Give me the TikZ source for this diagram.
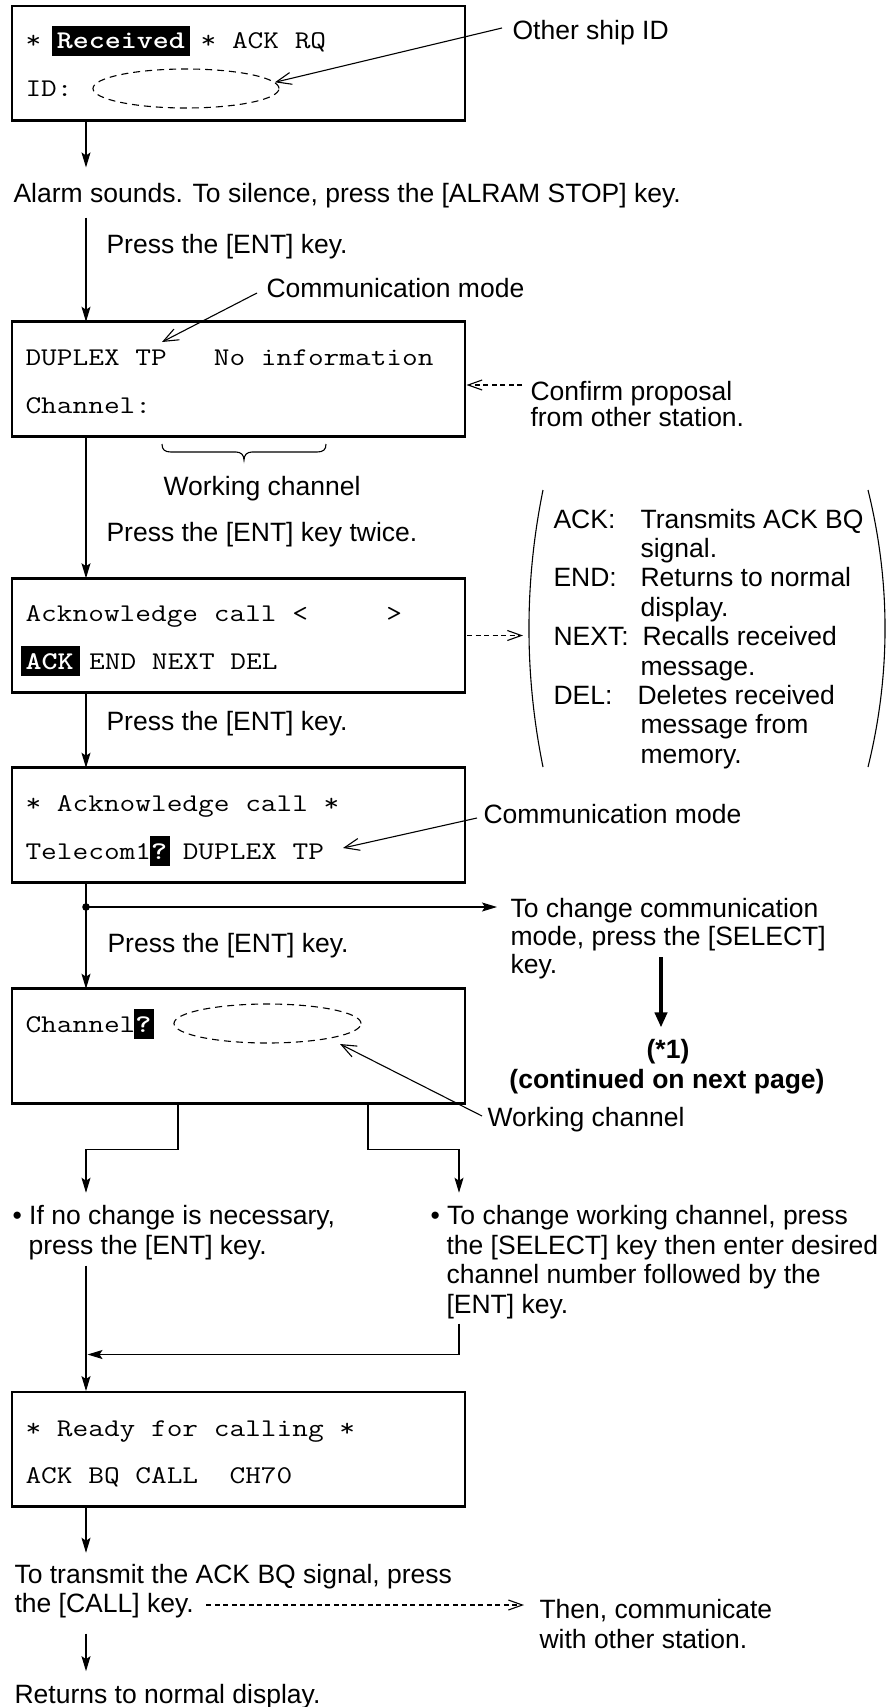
\documentclass[tikz,border=0pt]{standalone}
\usepackage{fontspec}
\usepackage{graphicx}
\setmainfont{Liberation Sans}
\usetikzlibrary{arrows.meta,shapes.geometric,calc}
\newcommand{\sansf}{\fontsize{26.5}{30}\selectfont\rmfamily}
\newcommand{\monof}{\fontsize{25.5}{30}\selectfont\ttfamily}
\newcommand{\mt}[1]{\scalebox{1.195}[1]{#1}}
\newcommand{\hlt}[3]{{\setlength{\fboxsep}{0pt}\hspace*{-#1}\colorbox{black}{\rule[-7pt]{0pt}{30pt}\hspace*{#1}\textcolor{white}{\bfseries #3}\hspace*{#2}}\hspace*{-#2}}}
\tikzset{
  scrbox/.style={draw, line width=2.6pt, minimum width=453pt, minimum height=114.5pt, inner sep=0pt, outer sep=0pt},
  mono/.style={font=\monof, inner sep=0pt, anchor=base west},
  txt/.style={font=\sansf, inner sep=0pt, anchor=base west, text height=19.5pt, text depth=5.5pt},
  arr/.style={-{Stealth[length=15pt,width=9pt,inset=3pt]}},
  openarr/.style={-{Straight Barb[length=15pt,width=12pt]}},
  dasharr/.style={dash pattern=on 5pt off 3.5pt, -{Straight Barb[length=14pt,width=10pt]}},
  dell/.style={draw, ellipse, dash pattern=on 7pt off 5pt, inner sep=0pt, minimum width=186pt, minimum height=39pt},
  paren/.style={line width=1.1pt}
}
\begin{document}
\begin{tikzpicture}[x=1pt,y=-1pt,line width=1.1pt]
\useasboundingbox (0,0) rectangle (894,1707);
\coordinate (cx) at (86,0);

% ---------- box 1
\node[scrbox] (b1) at (238.5,63.3) {};
\node[mono] (b1l1) at (25,49) {\mt{* \hlt{4.2pt}{4.2pt}{Received} * ACK RQ}};
\node[mono] (b1l2) at (25,97) {\mt{ID:}};
\node[dell] (e1) at (186,88.5) {};
\node[txt] (oship) at (512,40) {Other ship ID};
\draw[openarr] ([shift={(-10pt,5pt)}]oship.west) -- (e1.4);

\node[txt] (alarm) at (13,203) {Alarm sounds. To silence, press the [ALRAM STOP] key.};
\node[txt] (ent1) at (106,253) {Press the [ENT] key.};
\node[txt] (cm1) at (266,297) {Communication mode};

% ---------- box 2
\node[scrbox] (b2) at (238.5,379) {};
\node[mono] (b2l1) at (25,365) {\mt{DUPLEX TP\ \ \ No information}};
\node[mono] (b2l2) at (25,413) {\mt{Channel:}};
\coordinate (cm1tip) at (162,342);
\draw[openarr] ([shift={(-9pt,-3pt)}]cm1.west) -- (cm1tip);

\draw[arr, shorten >=15.5pt] (b1.south -| cx) -- (alarm.north -| cx);
\draw[arr, shorten <=8.5pt] (alarm.south -| cx) -- (b2.north -| cx);

\node[txt] (conf1) at (530,400) {Confirm proposal};
\node[txt] (conf2) at (530,426) {from other station.};
\draw[dasharr, shorten >=1.5pt] ([shift={(-8pt,8pt)}]conf1.west) coordinate (cs) -- (cs -| b2.east);

% brace
\draw (162,444) .. controls (162,450) and (165,452) .. (171,452) -- (236,452)
  .. controls (241,452) and (244,455) .. (244,460)
  .. controls (244,455) and (247,452) .. (252,452) -- (317,452)
  .. controls (323,452) and (326,450) .. (326,444);
\node[txt] (wc1) at (163,495) {Working channel};
\node[txt] (ent2) at (106,541) {Press the [ENT] key twice.};

% ---------- box 3
\node[scrbox] (b3) at (238.5,635.5) {};
\node[mono] (b3l1) at (25,621) {\mt{Acknowledge call <\ \ \ \ \ >}};
\node[mono] (b3l2) at (25,669) {\mt{\hlt{4.2pt}{5.8pt}{ACK} END NEXT DEL}};
\draw[arr] (b2.south -| cx) -- (b3.north -| cx);

% list
\draw[paren] (543,490) .. controls (524.3,582) and (524.3,675) .. (543,767);
\draw[paren] (868,490) .. controls (890.7,582) and (890.7,675) .. (868,767);
\coordinate (lpm) at (529,635.5);
\draw[dasharr, shorten >=6pt, shorten <=2pt] (b3.east) -- (lpm);
\node[txt] (k1) at (553,528) {ACK:};
\node[txt] (d1a) at (640,528) {Transmits ACK BQ};
\node[txt] (d1b) at (640,557.4) {signal.};
\node[txt] (k2) at (553,586.8) {END:};
\node[txt] (d2a) at (640,586.8) {Returns to normal};
\node[txt] (d2b) at (640,616.2) {display.};
\node[txt] (k3) at (553,645.6) {NEXT:};
\node[txt] (d3a) at (642,645.6) {Recalls received};
\node[txt] (d3b) at (640,675) {message.};
\node[txt] (k4) at (553,704.4) {DEL:};
\node[txt] (d4a) at (637,704.4) {Deletes received};
\node[txt] (d4b) at (640,733.8) {message from};
\node[txt] (d4c) at (640,763.2) {memory.};

\node[txt] (ent3) at (106,730) {Press the [ENT] key.};

% ---------- box 4
\node[scrbox] (b4) at (238.5,825) {};
\node[mono] (b4l1) at (25,811) {\mt{* Acknowledge call *}};
\node[mono] (b4l2) at (25,859) {\mt{Telecom1\hlt{0.8pt}{2.5pt}{?} DUPLEX TP}};
\draw[arr] (b3.south -| cx) -- (b4.north -| cx);
\node[txt] (cm2) at (483,823) {Communication mode};
\coordinate (cm2tip) at (343,848);
\draw[openarr] ([shift={(-6pt,-2pt)}]cm2.west) -- (cm2tip);

% ---------- box 5
\node[scrbox] (b5) at (238.5,1046) {};
\node[mono] (b5l1) at (25,1032) {\mt{Channel\hlt{0.8pt}{2.5pt}{?}}};
\node[dell, minimum width=187pt] (e2) at (267.5,1023.5) {};
\draw[arr] (b4.south -| cx) -- (b5.north -| cx);
\coordinate (jd) at (86,907);
\fill (jd) circle (3.8pt);
\node[txt] (tc1) at (510,917) {To change communication};
\node[txt] (tc2) at (510,945) {mode, press the [SELECT]};
\node[txt] (tc3) at (510,973) {key.};
\draw[arr, shorten >=13pt] (jd) -- (jd -| tc1.west);
\node[txt] (ent4) at (107,952) {Press the [ENT] key.};

\coordinate (ta) at (661,957);
\node[txt, font=\sansf\bfseries, anchor=base] (star1) at (668,1058) {(*1)};
\node[txt, font=\sansf\bfseries, anchor=base] (cont) at (667,1088) {(continued on next page)};
\draw[line width=4.5pt, -{Triangle[length=15pt,width=12pt]}, shorten >=10.5pt] (ta) -- (ta |- star1.north);

\node[txt] (wc2) at (487,1126) {Working channel};
\coordinate (wc2tip) at (340,1044);
\draw[openarr] ([shift={(-5pt,3pt)}]wc2.west) -- (wc2tip);

% ---------- branches
\coordinate (brL) at (178,1149.3);
\coordinate (brR) at (368,1149.3);
\coordinate (brRx) at (459,0);
\node[txt] (nc1) at (12,1224) {• If no change is necessary,};
\node[txt] (nc2) at (28,1254) {press the [ENT] key.};
\node[txt] (wch1) at (430,1224) {• To change working channel, press};
\node[txt] (wch2) at (446,1254) {the [SELECT] key then enter desired};
\node[txt] (wch3) at (446,1283) {channel number followed by the};
\node[txt] (wch4) at (446,1313) {[ENT] key.};
\draw[arr, shorten >=11.2pt] (b5.south -| brL) -- (brL) -| (nc1.north -| cx);
\draw[arr, shorten >=11.2pt] (b5.south -| brR) -- (brR) -| (wch1.north -| brRx);
\coordinate (mg) at (459,1354.5);
\draw[arr, shorten <=4.5pt, shorten >=1.5pt] (wch4.south -| brRx) -- (mg) -- (mg -| cx);

% ---------- box 6
\node[scrbox] (b6) at (238.5,1449.3) {};
\node[mono] (b6l1) at (25,1436) {\mt{* Ready for calling *}};
\node[mono] (b6l2) at (25,1483) {\mt{ACK BQ CALL\ \ CH70}};
\draw[arr, shorten <=5.5pt, shorten >=1pt] (nc2.south -| cx) -- (b6.north -| cx);

\node[txt] (tr1) at (14,1583) {To transmit the ACK BQ signal, press};
\node[txt] (tr2) at (14,1612) {the [CALL] key.};
\node[txt] (th1) at (539,1618) {Then, communicate};
\node[txt] (th2) at (539,1648) {with other station.};
\node[txt] (ret) at (14,1703) {Returns to normal display.};
\draw[arr, shorten >=10.2pt] (b6.south -| cx) -- (tr1.north -| cx);
\draw[dasharr, shorten <=12pt, shorten >=15pt] (tr2.east) -- (tr2.east -| th1.west);
\draw[arr, shorten <=15.5pt, shorten >=11.8pt] (tr2.south -| cx) -- (ret.north -| cx);
\end{tikzpicture}
\end{document}
